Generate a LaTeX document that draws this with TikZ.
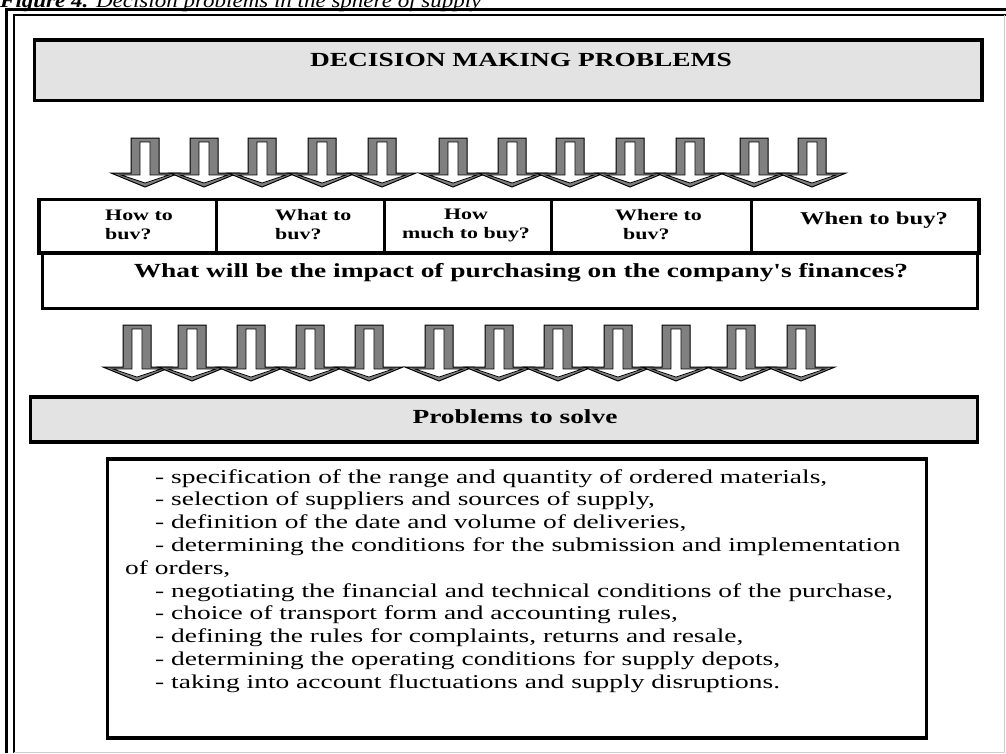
\documentclass[tikz,border=0pt]{standalone}
\usepackage{fontspec}
\setmainfont{Liberation Serif}[FakeStretch=1.37, Ligatures=TeXOff]
\newfontfamily\listfont{Liberation Serif}[FakeStretch=1.40, Ligatures=TeXOff]
\newfontfamily\capfont{Liberation Serif}[FakeStretch=1.15,
  ItalicFont=Liberation Serif Italic, BoldItalicFont=Liberation Serif Bold Italic]
\usetikzlibrary{positioning}

\definecolor{boxgray}{RGB}{227,227,227}
\definecolor{arrowgray}{RGB}{128,128,128}
\definecolor{framegray}{RGB}{205,205,205}

% block arrow pointing down: centre x, top y, y where the head starts
\newcommand{\downblock}[3]{%
  \filldraw[fill=arrowgray, draw=black, line width=1pt]
    (#1-14,#2) -- (#1+14,#2) -- (#1+14,#3) -- (#1+34,#3) -- (#1,#3+14)
    -- (#1-34,#3) -- (#1-14,#3) -- cycle;
  \filldraw[fill=white, draw=black, line width=0.8pt]
    (#1-5,#2+4) -- (#1+5,#2+4) -- (#1+5,#3+2) -- (#1+24,#3+2) -- (#1,#3+10)
    -- (#1-24,#3+2) -- (#1-5,#3+2) -- cycle;
}

\tikzset{
  boldbox/.style={draw=black, line width=3.5pt, rectangle, inner sep=0pt, anchor=north west},
  graybox/.style={boldbox, fill=boxgray},
  headtext/.style={font=\fontsize{20}{24}\selectfont\bfseries, inner sep=0pt},
  asktext/.style={font=\fontsize{16}{19}\selectfont\bfseries, inner sep=0pt, align=left},
  listtext/.style={font=\listfont\fontsize{19.6}{22.8}\selectfont, inner sep=0pt, align=left, anchor=north west},
}

\begin{document}
\begin{tikzpicture}[x=1pt, y=-1pt]
    \useasboundingbox (0,0) rectangle (1006,753);
    \clip (0,0) rectangle (1006,753);

    % caption, cut by the top edge
    \node[anchor=base west, inner sep=0pt, font=\capfont\fontsize{20}{24}\selectfont\itshape] (caption) at (0,7)
        {\textbf{Figure 4.} Decision problems in the sphere of supply};

    % frame
    \draw[line width=2.5pt] (6.5,753) -- (6.5,9.5) -- (1006,9.5);
    \draw[line width=2pt] (13.5,753) -- (13.5,15) -- (1006,15);
    \draw[framegray, line width=1pt] (1004,15) -- (1004,753);
    \draw[framegray, line width=1pt] (13.5,752) -- (1004,752);

    % top box
    \node[graybox, minimum width=947.5pt, minimum height=60.5pt] (title) at (32.5,38) {};
    \node[headtext] (titletext) at (521,60) {DECISION MAKING PROBLEMS};

    % upper arrows
    \downblock{145}{138}{173}
    \downblock{204}{138}{173}
    \downblock{262}{138}{173}
    \downblock{322}{138}{173}
    \downblock{382}{138}{173}
    \downblock{453}{138}{173}
    \downblock{512}{138}{173}
    \downblock{570}{138}{173}
    \downblock{630}{138}{173}
    \downblock{690}{138}{173}
    \downblock{754}{138}{173}
    \downblock{812}{138}{173}

    % row of questions
    \node[boldbox, minimum width=177.5pt, minimum height=53.5pt] (howbox) at (37,197.5) {};
    \node[boldbox, minimum width=168pt, minimum height=53.5pt] (whatbox) at (214.5,197.5) {};
    \node[boldbox, minimum width=167pt, minimum height=53.5pt] (muchbox) at (382.5,197.5) {};
    \node[boldbox, minimum width=200pt, minimum height=53.5pt] (wherebox) at (549.5,197.5) {};
    \node[boldbox, minimum width=227.5pt, minimum height=53.5pt] (whenbox) at (749.5,197.5) {};

    \node[asktext, anchor=west] (howtext) at (105,225) {How to\\buv?};
    \node[asktext, anchor=west] (whattext) at (275,225) {What to\\buv?};
    \node[asktext, align=center] (muchtext) at (466,225) {How\\much to buy?};
    \node[asktext, anchor=west] (wheretext) at (615,225) {Where to\\\hspace*{8pt}buv?};
    \node[asktext, font=\fontsize{18}{21}\selectfont\bfseries] (whentext) at (874,220) {When to buy?};

    \node[boldbox, minimum width=935pt, minimum height=55.5pt] (impact) at (40.5,251) {};
    \node[headtext] (impacttext) at (521,273) {What will be the impact of purchasing on the company's finances?};

    % lower arrows
    \downblock{137}{325}{367}
    \downblock{192}{325}{367}
    \downblock{251}{325}{367}
    \downblock{310}{325}{367}
    \downblock{369}{325}{367}
    \downblock{439}{325}{367}
    \downblock{499}{325}{367}
    \downblock{558}{325}{367}
    \downblock{618}{325}{367}
    \downblock{676}{325}{367}
    \downblock{741}{325}{367}
    \downblock{801}{325}{367}

    % problems
    \node[graybox, minimum width=947pt, minimum height=45pt] (solve) at (28.5,395) {};
    \node[headtext] (solvetext) at (515,417) {Problems to solve};

    \node[boldbox, minimum width=819pt, minimum height=279pt] (tasks) at (105.5,457) {};
    \node[listtext] (tasktext) at (125,469) {%
        \hspace*{30pt}- specification of the range and quantity of ordered materials,\\
        \hspace*{30pt}- selection of suppliers and sources of supply,\\
        \hspace*{30pt}- definition of the date and volume of deliveries,\\
        \hspace*{30pt}- determining the conditions for the submission and implementation\\
        of orders,\\
        \hspace*{30pt}- negotiating the financial and technical conditions of the purchase,\\
        \hspace*{30pt}- choice of transport form and accounting rules,\\
        \hspace*{30pt}- defining the rules for complaints, returns and resale,\\
        \hspace*{30pt}- determining the operating conditions for supply depots,\\
        \hspace*{30pt}- taking into account fluctuations and supply disruptions.};
\end{tikzpicture}
\end{document}
